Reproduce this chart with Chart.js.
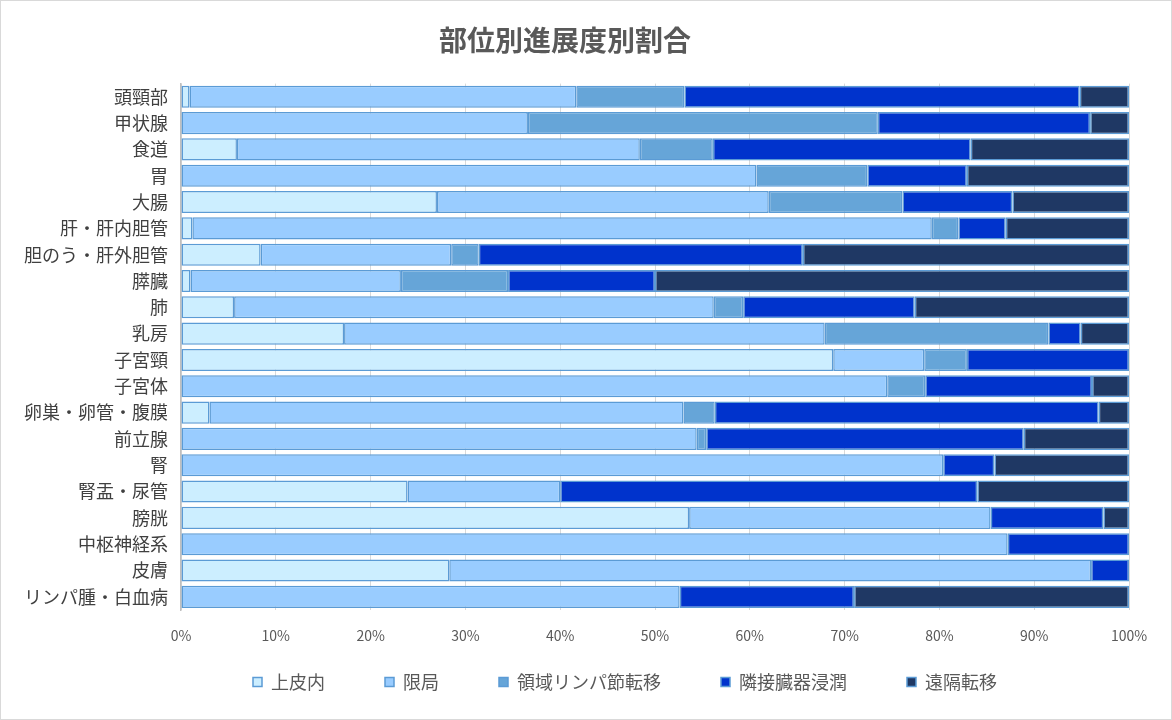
<!DOCTYPE html>
<html lang="ja">
<head>
<meta charset="UTF-8">
<title>部位別進展度別割合</title>
<script src="https://cdn.jsdelivr.net/npm/chart.js"></script>
<style>
  html, body { margin: 0; padding: 0; background: #fff; }
  #wrap { width: 1172px; height: 720px; box-sizing: border-box; border: 1px solid #d9d9d9; }
  canvas { display: block; }
</style>
</head>
<body>
<div id="wrap"><canvas id="chart" width="1170" height="718"></canvas></div>
<script>
const sites = ['頭頸部', '甲状腺', '食道', '胃', '大腸', '肝・肝内胆管', '胆のう・肝外胆管', '膵臓', '肺', '乳房',
  '子宮頸', '子宮体', '卵巣・卵管・腹膜', '前立腺', '腎', '腎盂・尿管', '膀胱', '中枢神経系', '皮膚', 'リンパ腫・白血病'];

// 割合 (%)
const jouhinai = [0.9, 0, 5.9, 0, 27.0, 1.2, 8.4, 1.0, 5.6, 17.2, 68.8, 0, 3.0, 0, 0, 23.9, 53.6, 0, 28.3, 0];
const kyokusho = [40.8, 36.6, 42.5, 60.7, 35.0, 78.0, 20.1, 22.2, 50.6, 50.7, 9.6, 74.5, 50.0, 54.4, 80.4, 16.1, 31.8, 87.2, 67.7, 52.6];
const ryouiki  = [11.4, 36.9, 7.7, 11.7, 14.1, 2.8, 2.9, 11.3, 3.1, 23.6, 4.5, 4.0, 3.3, 1.0, 0, 0, 0, 0, 0, 0];
const rinsetsu = [41.7, 22.4, 27.2, 10.5, 11.6, 5.0, 34.2, 15.5, 18.1, 3.4, 17.1, 17.6, 40.5, 33.5, 5.4, 44.0, 11.9, 12.8, 4.0, 18.4];
const enkaku   = [5.2, 4.1, 16.7, 17.1, 12.3, 13.0, 34.4, 50.0, 22.6, 5.1, 0, 3.9, 3.2, 11.1, 14.2, 16.0, 2.7, 0, 0, 29.0];

const seriesNames = ['上皮内', '限局', '領域リンパ節転移', '隣接臓器浸潤', '遠隔転移'];
const seriesColors = ['#cceeff', '#99ccff', '#66a5d8', '#0033cc', '#1f3864'];
const xTicks = [0, 10, 20, 30, 40, 50, 60, 70, 80, 90, 100];

const font = '"Noto Sans CJK JP", "Noto Sans", sans-serif';

// legend sits lower and further right than chart.js would put it
const legendUp = 31, legendRight = 60, legendBoxH = 75;
const legendNudge = {
  id: 'legendNudge',
  beforeLayout(chart) {
    const lg = chart.legend;
    if (!lg || lg._nudged) return;
    lg._nudged = true;
    const fit = lg.fit.bind(lg);
    lg.fit = function () { fit(); this.height = legendBoxH; };
    const draw = lg.draw.bind(lg);
    lg.draw = function () {
      const { top, left, right } = this;
      this.top -= legendUp; this.left += legendRight; this.right += legendRight;
      draw();
      this.top = top; this.left = left; this.right = right;
    };
  }
};

const datasets = [jouhinai, kyokusho, ryouiki, rinsetsu, enkaku].map((d, i) => ({
  label: seriesNames[i],
  data: d,
  backgroundColor: seriesColors[i],
  borderColor: '#5b9bd5',
  borderWidth: 1.5,
  borderSkipped: false,
  barPercentage: 0.84,
  categoryPercentage: 1
}));

new Chart(document.getElementById('chart'), {
  type: 'bar',
  data: { labels: sites, datasets },
  plugins: [legendNudge],
  options: {
    indexAxis: 'y',
    responsive: false,
    animation: false,
    layout: { padding: { left: 0, right: 42, top: 0, bottom: 0 } },
    scales: {
      x: {
        stacked: true,
        min: 0,
        max: 100,
        afterBuildTicks: s => { s.ticks = xTicks.map(v => ({ value: v })); },
        afterFit: s => { s.height = 34; },
        grid: { color: '#d9d9d9', drawTicks: false },
        border: { display: false },
        ticks: {
          padding: 17,
          maxRotation: 0,
          color: '#595959',
          font: { family: font, size: 14 },
          callback: v => v + '%'
        }
      },
      y: {
        stacked: true,
        afterFit: s => { s.width = 180; },
        grid: { display: false, drawTicks: false },
        border: { display: true, color: '#bfbfbf', width: 1.5 },
        ticks: {
          padding: 13,
          color: '#404040',
          font: { family: font, size: 18 }
        }
      }
    },
    plugins: {
      title: {
        display: true,
        text: '部位別進展度別割合',
        color: '#595959',
        font: { family: font, size: 28, weight: 'bold' },
        padding: { top: 23, bottom: 26 }
      },
      legend: {
        position: 'bottom',
        labels: {
          boxWidth: 9,
          boxHeight: 9,
          padding: 60,
          color: '#595959',
          font: { family: font, size: 18 }
        }
      },
      tooltip: { enabled: false }
    }
  }
});
</script>
</body>
</html>
